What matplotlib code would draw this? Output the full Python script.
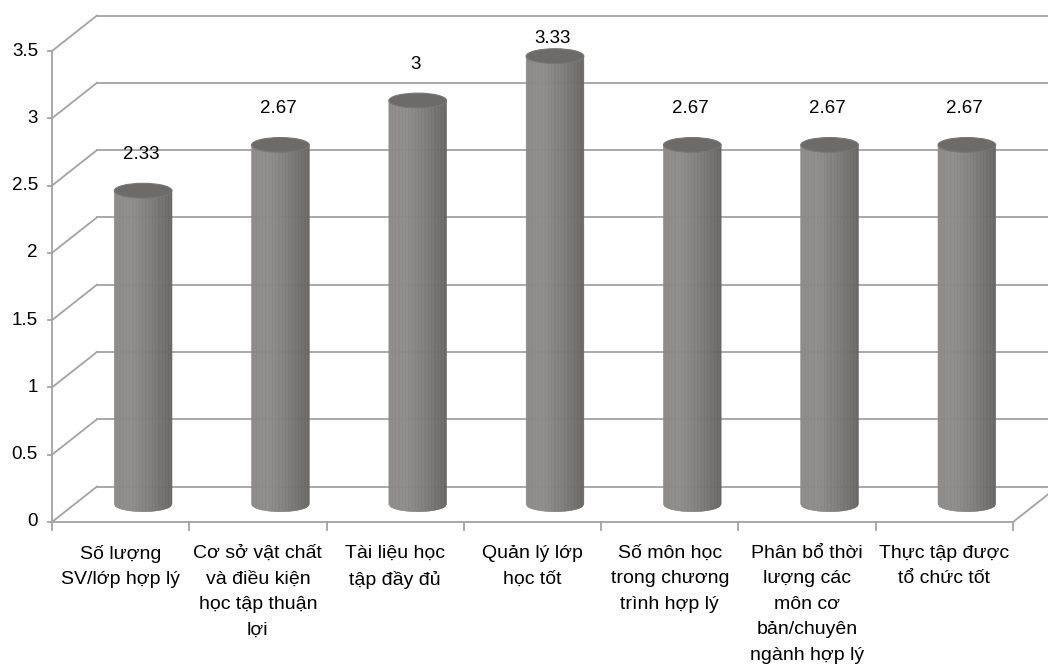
import numpy as np
import matplotlib.pyplot as plt
from matplotlib.patches import Polygon, Ellipse
from matplotlib.transforms import ScaledTranslation

plt.rcParams['font.family'] = ['Liberation Sans', 'DejaVu Sans']

categories = [
    "Số lượng\nSV/lớp hợp lý",
    "Cơ sở vật chất\nvà điều kiện\nhọc tập thuận\nlợi",
    "Tài liệu học\ntập đầy đủ",
    "Quản lý lớp\nhọc tốt",
    "Số môn học\ntrong chương\ntrình hợp lý",
    "Phân bổ thời\nlượng các\nmôn cơ\nbản/chuyên\nngành hợp lý",
    "Thực tập được\ntổ chức tốt",
]
values = [2.33, 2.67, 3, 3.33, 2.67, 2.67, 2.67]
value_labels = ["2.33", "2.67", "3", "3.33", "2.67", "2.67", "2.67"]
y_ticks = [0, 0.5, 1, 1.5, 2, 2.5, 3, 3.5]
y_tick_labels = ["0", "0.5", "1", "1.5", "2", "2.5", "3", "3.5"]

n = len(categories)
grid_color = "#a3a3a3"
lw = 1.3

fig = plt.figure(figsize=(10.48, 6.66), dpi=100)
ax = fig.add_axes([52 / 1048, 144 / 666, 961 / 1048, 471 / 666])
ax.set_xlim(0, n)
ax.set_ylim(0, 3.5)
ax.axis("off")

# depth of the 3d box in inches
dx, dy = 0.45, 0.355
back = ax.transData + ScaledTranslation(dx, dy, fig.dpi_scale_trans)
mid = ax.transData + ScaledTranslation(dx / 2, dy / 2, fig.dpi_scale_trans)


def at(x, y):
    # inch coordinates anchored on a data point
    return fig.dpi_scale_trans + ScaledTranslation(x, y, ax.transData)


# back wall grid + side wall diagonals
for v, lab in zip(y_ticks, y_tick_labels):
    ax.plot([0, n + 0.5], [v, v], color=grid_color, lw=lw, transform=back, clip_on=False)
    ax.plot([0, dx], [0, dy], color=grid_color, lw=lw, transform=at(0, v), clip_on=False)
    ax.plot([-0.04, 0], [0, 0], color=grid_color, lw=lw, transform=at(0, v), clip_on=False)
    ax.annotate(lab, (0, v), xytext=(-14, 0), textcoords="offset pixels",
                ha="right", va="center", fontsize=13.5, annotation_clip=False)

# floor right edge
ax.plot([0, dx], [0, dy], color=grid_color, lw=lw, transform=at(n, 0), clip_on=False)

# front axes
ax.plot([0, 0], [0, 3.5], color=grid_color, lw=lw, clip_on=False)
ax.plot([0, n], [0, 0], color=grid_color, lw=lw, clip_on=False)
for i in range(n + 1):
    ax.plot([0, 0], [-0.075, 0], color=grid_color, lw=lw, transform=at(i, 0), clip_on=False)

# cylinders
half_w = 0.21
ell_b = 0.055
strips = 40
shade_t = [0.0, 0.3, 0.6, 1.0]
shade_g = [0.545, 0.555, 0.50, 0.405]
for i, v in enumerate(values):
    xc = i + 0.5
    edges = np.linspace(-half_w, half_w, strips + 1)
    for j in range(strips):
        xa, xb = edges[j], edges[j + 1]
        ya = -ell_b * np.sqrt(max(0.0, 1 - (xa / half_w) ** 2))
        yb = -ell_b * np.sqrt(max(0.0, 1 - (xb / half_w) ** 2))
        g = np.interp((j + 0.5) / strips, shade_t, shade_g)
        c = (g, g - 0.006, g - 0.014)
        ax.add_patch(Polygon([(xc + xa, v), (xc + xb, v), (xc + xb, yb), (xc + xa, ya)],
                             closed=True, facecolor=c, edgecolor=c, lw=0.4,
                             transform=mid, clip_on=False, zorder=3))
    ax.add_patch(Ellipse((xc, v), 2 * half_w, 2 * ell_b, facecolor="#6c6b69",
                         edgecolor="#787775", lw=0.8, transform=mid, clip_on=False, zorder=4))
    ly = min(v + 0.27, 3.46)
    ax.annotate(value_labels[i], (xc, ly), xytext=(-2, 0), textcoords="offset pixels",
                xycoords=mid, ha="center", va="center", fontsize=13.5,
                annotation_clip=False)

# category labels
for i, label in enumerate(categories):
    ax.annotate(label, (i + 0.5, 0), xytext=(0, -23), textcoords="offset pixels",
                ha="center", va="top", fontsize=14, linespacing=1.65,
                annotation_clip=False)

fig.savefig("out.png", dpi=100)
